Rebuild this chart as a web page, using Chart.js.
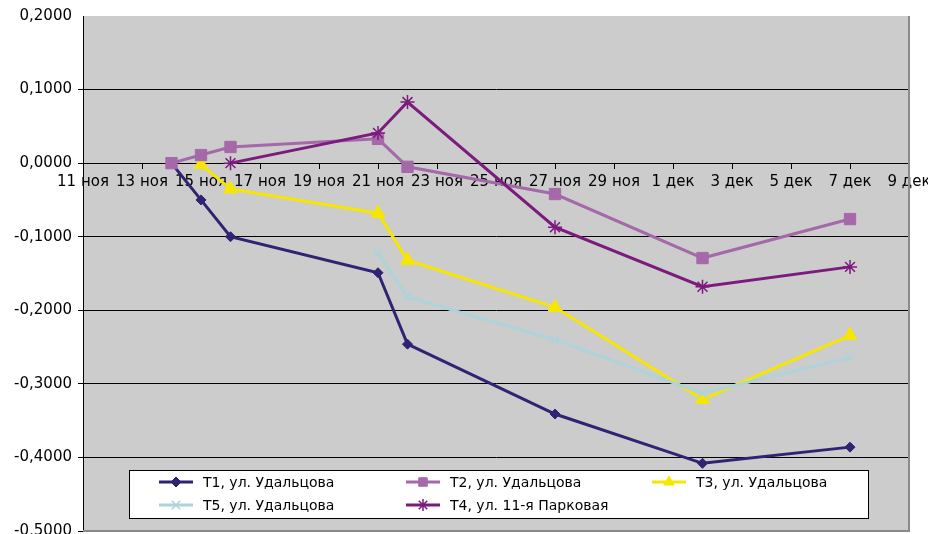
<!DOCTYPE html>
<html>
<head>
<meta charset="utf-8">
<script src="https://cdn.jsdelivr.net/npm/chart.js@4"></script>
<style>
  html, body { margin: 0; padding: 0; background: #ffffff; overflow: hidden; }
  #chart { display: block; }
</style>
</head>
<body>
<canvas id="chart" width="928" height="534"></canvas>
<script>
// x = day counted in November (1 дек = 31)
const tickLabels = ["11 ноя", "13 ноя", "15 ноя", "17 ноя", "19 ноя", "21 ноя", "23 ноя", "25 ноя",
                    "27 ноя", "29 ноя", "1 дек", "3 дек", "5 дек", "7 дек", "9 дек"];

const seriesNames = ["Т1, ул. Удальцова", "Т2, ул. Удальцова", "Т3, ул. Удальцова", "Т5, ул. Удальцова", "Т4, ул. 11-я Парковая"];

const t1Days = [14, 15, 16, 21, 22, 27, 32, 37];
const t1Values = [0.000, -0.050, -0.100, -0.149, -0.246, -0.341, -0.408, -0.386];

const t2Days = [14, 15, 16, 21, 22, 27, 32, 37];
const t2Values = [0.000, 0.011, 0.022, 0.033, -0.005, -0.042, -0.129, -0.076];

const t3Days = [15, 16, 21, 22, 27, 32, 37];
const t3Values = [-0.002, -0.035, -0.068, -0.132, -0.196, -0.321, -0.234];

const t5Days = [21, 22, 27, 32, 37];
const t5Values = [-0.122, -0.182, -0.240, -0.313, -0.264];

const t4Days = [16, 21, 22, 27, 32, 37];
const t4Values = [0.000, 0.041, 0.083, -0.087, -0.168, -0.141];

// wanted plot box, px
const plotBox = { top: 16, right: 909, bottom: 531 };

function points(days, values) {
    return days.map(function(d, i) { return { x: d, y: values[i] }; });
}

function yLabel(v) {
    if (Math.abs(v) < 1e-9) v = 0;
    return v.toFixed(4).replace(".", ",");
}

function series(name, days, values, color, style, radius, order) {
    return {
        label: name,
        data: points(days, values),
        borderColor: color,
        backgroundColor: color,
        pointBackgroundColor: color,
        pointBorderColor: color,
        borderWidth: 3,
        pointStyle: style,
        pointRadius: radius,
        pointHoverRadius: radius,
        pointBorderWidth: style === "star" || style === "crossRot" ? 1.5 : 1,
        tension: 0,
        order: order
    };
}

const datasets = [
    series(seriesNames[0], t1Days, t1Values, "#2f2474", "rectRot", 5, 2),
    series(seriesNames[1], t2Days, t2Values, "#a568a9", "rect", 8, 1),
    series(seriesNames[2], t3Days, t3Values, "#f7e600", "triangle", 8, 3),
    series(seriesNames[3], t5Days, t5Values, "#acd4da", "crossRot", 6, 2),
    series(seriesNames[4], t4Days, t4Values, "#7c1a7e", "star", 7, 0)
];

// plot background, right/bottom frame, y labels (drawn here so they add no layout padding)
const plotFrame = {
    id: "plotFrame",
    beforeDraw: function(chart) {
        const a = chart.chartArea, ctx = chart.ctx;
        ctx.save();
        ctx.fillStyle = "#cccccc";
        ctx.fillRect(a.left, a.top, a.right - a.left, a.bottom - a.top);
        ctx.restore();
    },
    afterDatasetsDraw: function(chart) {
        const a = chart.chartArea, ctx = chart.ctx;
        ctx.save();
        ctx.strokeStyle = "#8a8a8a";
        ctx.lineWidth = 2;
        ctx.beginPath();
        ctx.moveTo(a.right, a.top);
        ctx.lineTo(a.right, a.bottom);
        ctx.lineTo(a.left, a.bottom);
        ctx.stroke();
        ctx.restore();
    },
    afterDraw: function(chart) {
        const ys = chart.scales.y, ctx = chart.ctx;
        ctx.save();
        ctx.fillStyle = "#000000";
        ctx.font = "15px 'DejaVu Sans'";
        ctx.textAlign = "right";
        ctx.textBaseline = "middle";
        ys.ticks.forEach(function(t) {
            ctx.fillText(yLabel(t.value), ys.right - 11, ys.getPixelForValue(t.value));
        });
        ctx.restore();
    }
};

// boxed legend, 3 columns like the original
const boxLegend = {
    id: "boxLegend",
    afterDraw: function(chart) {
        const ctx = chart.ctx;
        const slots = [[159, 482], [406, 482], [652, 482], [159, 505], [406, 505]];
        ctx.save();
        ctx.fillStyle = "#ffffff";
        ctx.fillRect(129, 470, 739, 48);
        ctx.strokeStyle = "#000000";
        ctx.lineWidth = 1;
        ctx.strokeRect(129.5, 470.5, 739, 48);
        chart.data.datasets.forEach(function(ds, i) {
            const x = slots[i][0], y = slots[i][1];
            ctx.strokeStyle = ds.borderColor;
            ctx.fillStyle = ds.borderColor;
            ctx.lineWidth = 3;
            ctx.beginPath();
            ctx.moveTo(x, y);
            ctx.lineTo(x + 34, y);
            ctx.stroke();
            ctx.lineWidth = ds.pointBorderWidth;
            Chart.helpers.drawPoint(ctx, { pointStyle: ds.pointStyle, radius: Math.min(ds.pointRadius, 6), rotation: 0, borderWidth: ds.pointBorderWidth }, x + 17, y);
            ctx.fillStyle = "#000000";
            ctx.font = "14px 'DejaVu Sans'";
            ctx.textBaseline = "middle";
            ctx.textAlign = "left";
            ctx.fillText(ds.label, x + 44, y + 1);
        });
        ctx.restore();
    }
};

function noPadding(scale) {
    scale.paddingTop = 0;
    scale.paddingBottom = 0;
    scale.paddingLeft = 0;
    scale.paddingRight = 0;
}

const chart = new Chart(document.getElementById("chart").getContext("2d"), {
    type: "line",
    data: { datasets: datasets },
    options: {
        responsive: false,
        animation: false,
        // autoPadding would reserve room for the biggest marker (9px) round the plot
        layout: { autoPadding: false, padding: { top: 16, right: 19, bottom: 3, left: 0 } },
        plugins: { legend: { display: false }, tooltip: { enabled: false } },
        scales: {
            x: {
                type: "linear",
                position: { y: 0 },
                min: 11,
                max: 39,
                border: { color: "#000000", width: 1 },
                grid: { drawOnChartArea: false, drawTicks: true, tickLength: 5, color: "#000000" },
                ticks: {
                    stepSize: 2,
                    autoSkip: false,
                    maxRotation: 0,
                    padding: 5,
                    color: "#000000",
                    font: { family: "'DejaVu Sans'", size: 15 },
                    callback: function(v) { return tickLabels[(v - 11) / 2]; }
                },
                afterFit: noPadding
            },
            y: {
                min: -0.5,
                max: 0.2,
                border: { color: "#000000", width: 1 },
                grid: {
                    tickLength: 5,
                    lineWidth: 1,
                    color: function(c) {
                        if (c.tick && Math.abs(c.tick.value - 0.2) < 1e-6) return "rgba(0,0,0,0)";
                        return "#000000";
                    }
                },
                ticks: { stepSize: 0.1, display: false },
                afterFit: function(scale) {
                    noPadding(scale);
                    scale.width = 83;
                }
            }
        }
    },
    plugins: [plotFrame, boxLegend]
});

// nudge the layout padding until the plot box sits where the original has it
for (let i = 0; i < 3; i++) {
    const a = chart.chartArea, pad = chart.options.layout.padding;
    const dt = plotBox.top - a.top, db = a.bottom - plotBox.bottom, dr = a.right - plotBox.right;
    if (Math.abs(dt) < 0.5 && Math.abs(db) < 0.5 && Math.abs(dr) < 0.5) break;
    pad.top += dt;
    pad.bottom += db;
    pad.right += dr;
    chart.update();
}
</script>
</body>
</html>
